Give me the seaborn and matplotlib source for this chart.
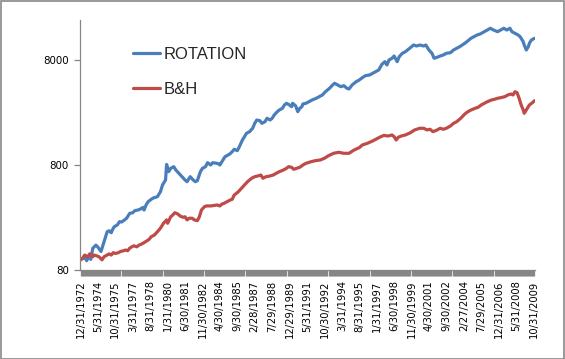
import matplotlib
matplotlib.use("Agg")
import matplotlib.pyplot as plt
from matplotlib.lines import Line2D
from matplotlib.patches import Rectangle
from matplotlib.ticker import NullLocator
import numpy as np
import pandas as pd
import seaborn as sns

# ---------------- data (months counted from 12/1972) ----------------
rot_month = [
    0, 4, 6, 8, 10, 12, 15, 17, 20, 21,
    23, 26, 28, 30, 31, 33, 36, 38, 40, 43,
    45, 48, 51, 53, 56, 58, 61, 62, 64, 66,
    69, 71, 75, 78, 80, 83, 84, 86, 88, 91,
    93, 96, 99, 102, 104, 107, 110, 112, 114, 117,
    119, 122, 124, 127, 129, 133, 135, 136, 139, 141,
    144, 146, 148, 150, 153, 155, 158, 160, 162, 165,
    168, 170, 172, 175, 177, 180, 182, 185, 187, 189,
    192, 194, 197, 199, 201, 204, 206, 207, 210, 212,
    214, 216, 217, 220, 223, 226, 230, 233, 236, 239,
    243, 246, 248, 251, 254, 257, 260, 262, 265, 269,
    272, 275, 278, 282, 285, 288, 291, 294, 297, 299,
    301, 304, 306, 309, 311, 314, 317, 320, 323, 325,
    328, 331, 335, 337, 340, 343, 345, 348, 351, 354,
    357, 361, 364, 367, 370, 375, 377, 381, 384, 387,
    390, 394, 397, 400, 403, 407, 410, 413, 416, 419,
    421, 424, 427, 429, 432, 433, 435, 437, 438, 440,
    443,
]
rot_value = [
    100, 106, 98, 107, 101, 129, 138, 132, 120, 129,
    149, 185, 189, 181, 192, 207, 215, 231, 229, 240,
    249, 277, 281, 294, 298, 303, 316, 298, 333, 358,
    377, 388, 399, 445, 516, 576, 810, 691, 744, 771,
    717, 667, 619, 576, 555, 619, 576, 555, 567, 691,
    744, 771, 842, 800, 842, 830, 818, 800, 893, 960,
    996, 1025, 1071, 1130, 1095, 1195, 1384, 1488, 1604, 1661,
    1790, 1996, 2146, 2113, 1996, 2067, 2228, 2146, 2228, 2395,
    2575, 2672, 2774, 2982, 3095, 2982, 2873, 3095, 2917, 2575,
    2774, 2873, 3048, 3095, 3206, 3328, 3454, 3578, 3713, 3992,
    4302, 4624, 4800, 4624, 4455, 4554, 4302, 4236, 4624, 4971,
    5160, 5428, 5671, 5758, 5977, 6190, 6425, 7248, 7707, 7169,
    8000, 8304, 8734, 7707, 8600, 9266, 9597, 10120, 10708, 11115,
    10875, 11115, 10875, 11115, 9961, 9266, 8304, 8488, 8734, 8927,
    9266, 9391, 9961, 10340, 10708, 11538, 11949, 12877, 13335, 13843,
    14150, 14881, 15446, 16033, 15446, 14881, 15446, 16033, 15446, 16033,
    14881, 14369, 13843, 13335, 11949, 11115, 9961, 10708, 11538, 12405,
    12877,
]

bh_month = [
    0, 2, 4, 7, 9, 12, 13, 16, 18, 21,
    23, 26, 28, 30, 32, 34, 37, 39, 42, 44,
    46, 48, 50, 52, 55, 57, 60, 62, 65, 67,
    69, 72, 75, 78, 81, 84, 85, 88, 90, 92,
    95, 97, 100, 102, 104, 106, 109, 111, 114, 116,
    118, 121, 123, 127, 130, 133, 136, 138, 140, 143,
    146, 148, 150, 154, 157, 160, 163, 167, 170, 173,
    176, 178, 181, 185, 188, 191, 194, 198, 201, 203,
    206, 208, 211, 214, 217, 220, 225, 229, 234, 238,
    242, 247, 252, 257, 262, 267, 272, 275, 280, 285,
    290, 293, 296, 300, 304, 306, 308, 310, 313, 317,
    322, 326, 331, 335, 338, 341, 344, 348, 351, 354,
    357, 361, 364, 367, 371, 375, 378, 381, 385, 388,
    391, 394, 397, 401, 404, 407, 410, 414, 417, 420,
    422, 424, 426, 428, 430, 432, 433, 436, 438, 441,
    443,
]
bh_value = [
    100, 103, 111, 107, 114, 107, 111, 109, 107, 100,
    107, 111, 114, 111, 117, 115, 117, 120, 122, 124,
    122, 129, 133, 136, 133, 138, 142, 146, 152, 157,
    166, 172, 185, 200, 223, 240, 223, 257, 267, 281,
    273, 262, 254, 257, 240, 249, 249, 240, 236, 257,
    298, 321, 326, 326, 329, 333, 326, 340, 345, 358,
    371, 377, 414, 445, 480, 516, 555, 598, 619, 629,
    642, 598, 619, 629, 642, 667, 691, 717, 744, 771,
    761, 728, 744, 761, 800, 830, 860, 879, 893, 927,
    981, 1034, 1057, 1034, 1034, 1112, 1170, 1241, 1288, 1355,
    1437, 1488, 1530, 1511, 1545, 1488, 1384, 1468, 1511, 1545,
    1625, 1724, 1790, 1790, 1724, 1752, 1661, 1724, 1790, 1752,
    1790, 1882, 1996, 2067, 2228, 2448, 2575, 2672, 2774, 2835,
    2982, 3095, 3206, 3328, 3381, 3454, 3501, 3578, 3713, 3795,
    3713, 3992, 3906, 3454, 2982, 2672, 2486, 2774, 2982, 3137,
    3277,
]

tick_labels = [
    "12/31/1972", "5/31/1974", "10/31/1975", "3/31/1977", "8/31/1978",
    "1/31/1980", "6/30/1981", "11/30/1982", "4/30/1984", "9/30/1985",
    "2/28/1987", "7/29/1988", "12/29/1989", "5/31/1991", "10/30/1992",
    "3/31/1994", "8/31/1995", "1/31/1997", "6/30/1998", "11/30/1999",
    "4/30/2001", "9/30/2002", "2/27/2004", "7/29/2005", "12/31/2006",
    "5/31/2008", "10/31/2009",
]
label_step = 17          # months between labelled categories
n_months = 444           # monthly categories 12/1972 .. 11/2009

series_names = ["ROTATION", "B&H"]
series_colors = ["#4A7EBB", "#BE4B48"]
y_ticks = [80, 800, 8000]

# ---------------- build table ----------------
df = pd.concat([
    pd.DataFrame({"month": rot_month, "value": rot_value, "series": series_names[0]}),
    pd.DataFrame({"month": bh_month, "value": bh_value, "series": series_names[1]}),
], ignore_index=True)

sns.set_theme(style="white")
plt.rcParams["font.family"] = ["DejaVu Sans"]

W, H = 565, 359
fig = plt.figure(figsize=(W / 100, H / 100), dpi=100)
fig.patch.set_facecolor("white")
ax = fig.add_axes([80 / W, 1 - 270 / H, 455 / W, 250 / H])

palette = dict(zip(series_names, series_colors))
sns.lineplot(data=df, x="month", y="value", hue="series", palette=palette,
             linewidth=2.3, ax=ax, legend=False, sort=False)

ax.set_yscale("log")
ax.set_ylim(80, 19230)
ax.set_yticks(y_ticks)
ax.set_yticklabels([str(v) for v in y_ticks])
ax.yaxis.set_minor_locator(NullLocator())

ax.set_xlim(-0.5, n_months - 0.5)
ax.set_xticks(np.arange(n_months))
labels = [""] * n_months
for i, lab in enumerate(tick_labels):
    labels[i * label_step] = lab
ax.set_xticklabels(labels, rotation=90, fontsize=7.2, color="black")
ax.xaxis.set_minor_locator(NullLocator())

axis_gray = "#868686"
ax.tick_params(axis="x", which="major", length=4.5, width=0.9, color=axis_gray,
               direction="out", pad=3, bottom=True)
ax.tick_params(axis="y", which="major", length=4, width=0.9, color=axis_gray,
               direction="out", pad=4, labelsize=7.4, labelcolor="black", left=True)
for s in ["top", "right"]:
    ax.spines[s].set_visible(False)
for s in ["left", "bottom"]:
    ax.spines[s].set_color(axis_gray)
    ax.spines[s].set_linewidth(0.9)
ax.set_xlabel("")
ax.set_ylabel("")
ax.grid(False)

handles = [Line2D([0], [0], color=c, lw=2.3) for c in series_colors]
fig.legend(handles, series_names, loc="upper left",
           bbox_to_anchor=(133 / W, 1 - 47 / H), frameon=False,
           prop={"family": "Liberation Sans", "size": 12},
           handlelength=1.62, handletextpad=0.2, labelspacing=1.22,
           borderpad=0, borderaxespad=0)

fig.add_artist(Rectangle((0.5 / W, 0.5 / H), 1 - 1.5 / W, 1 - 1.5 / H,
                         transform=fig.transFigure, fill=False,
                         edgecolor="#888888", lw=1.2))

fig.savefig("out.png", dpi=100, facecolor="white")
